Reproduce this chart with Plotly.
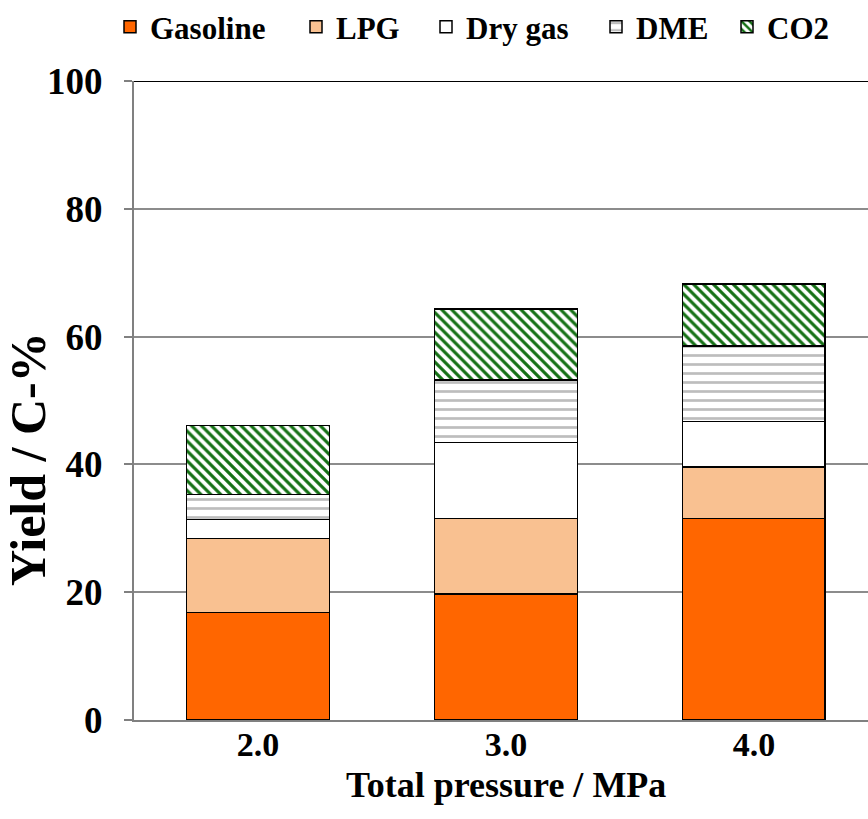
import plotly.graph_objects as go

categories = ["2.0", "3.0", "4.0"]
gasoline = [16.8, 19.7, 31.5]
lpg = [11.6, 11.8, 8.1]
dry_gas = [3.0, 11.9, 7.1]
dme = [3.9, 9.8, 11.8]
co2 = [10.8, 11.1, 9.7]
y_ticks = [0, 20, 40, 60, 80, 100]
series_names = ["Gasoline", "LPG", "Dry gas", "DME", "CO2"]

FONT = "Liberation Serif"
line = dict(color="black", width=1.5)
W = 0.575

markers = [
    dict(color="#FF6600", line=line),
    dict(color="#F9C191", line=line),
    dict(color="white", line=line),
    dict(color="white", line=line,
         pattern=dict(shape="-", fgcolor="#bdbdbd", bgcolor="white",
                      size=9, solidity=0.3, fgopacity=1)),
    dict(color="white", line=line,
         pattern=dict(shape="\\", fgcolor="#157015", bgcolor="white",
                      size=7, solidity=0.45, fgopacity=1)),
]
values = [gasoline, lpg, dry_gas, dme, co2]
legend_x = [110, 296, 426, 596, 727]

fig = go.Figure()
legends = {}
for i, (nm, vals, mk, lx) in enumerate(zip(series_names, values, markers, legend_x)):
    key = f"legend{i+2}"
    fig.add_bar(name=f"<b>{nm}</b>", x=categories, y=vals, width=W, marker=mk, legend=key)
    legends[key] = dict(orientation="h", xref="container", yref="container",
                        x=lx / 868, y=1 - 27 / 819, yanchor="middle", xanchor="left",
                        font=dict(family=FONT, size=31, color="black"),
                        itemwidth=30, bgcolor="rgba(0,0,0,0)")

fig.update_layout(
    barmode="stack",
    width=868, height=819,
    margin=dict(l=134, r=0, t=81, b=99, autoexpand=False),
    plot_bgcolor="white", paper_bgcolor="white",
    font=dict(family=FONT, size=36, color="black"),
    showlegend=True,
    xaxis=dict(range=[-0.5, 2.46], showgrid=False, showline=True, linecolor="#808080",
               linewidth=2, ticks="", ticklabelstandoff=-7,
               tickfont=dict(family=FONT, size=34, weight="bold")),
    yaxis=dict(range=[0, 100], tickvals=y_ticks, showgrid=True, gridcolor="#8c8c8c",
               gridwidth=1.5, showline=True, linecolor="#808080", linewidth=2,
               ticks="outside", ticklen=8, tickcolor="#808080", tickwidth=1.5,
               ticklabelstandoff=14,
               tickfont=dict(family=FONT, size=37, weight="bold"), zeroline=False),
    shapes=[dict(type="line", xref="paper", yref="y", x0=0, x1=1, y0=100, y1=100,
                 line=dict(color="black", width=2))],
    annotations=[
        dict(text="<b>Total pressure / MPa</b>", xref="x", yref="paper", x=1,
             y=-(785 - 720) / 639, showarrow=False, xanchor="center", yanchor="middle",
             font=dict(family=FONT, size=36)),
        dict(text="<b>Yield / C-%</b>", xref="paper", yref="paper", x=-(134 - 28) / 734,
             y=(720 - 459) / 639, textangle=-90, showarrow=False, xanchor="center",
             yanchor="middle", font=dict(family=FONT, size=50)),
    ],
    **legends,
)

fig.write_html("out.html")
